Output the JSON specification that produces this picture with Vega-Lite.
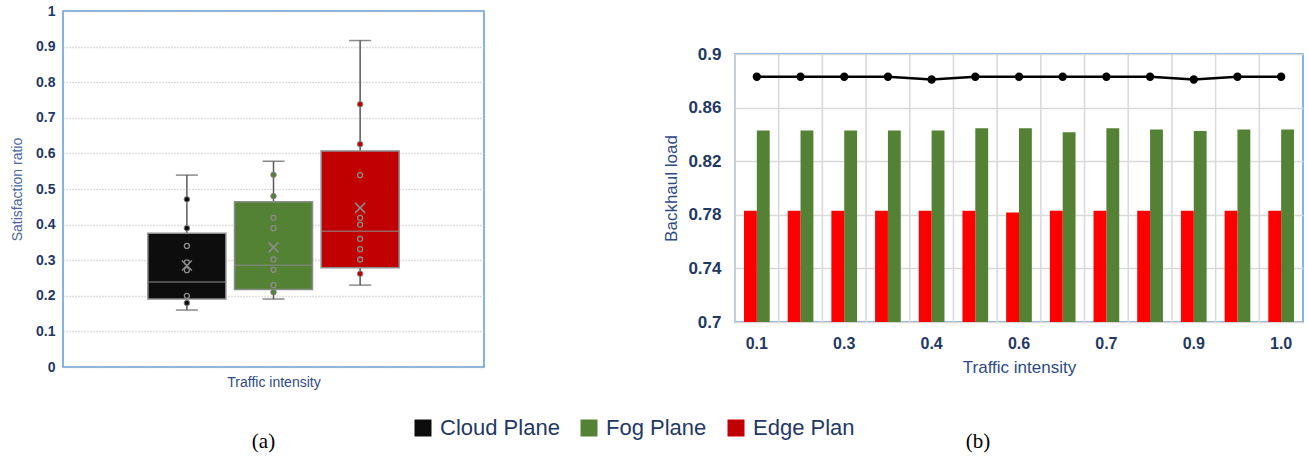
{
  "$schema": "https://vega.github.io/schema/vega-lite/v6.json",
  "padding": {"left": 9, "top": 3, "right": 0, "bottom": 0},
  "background": "white",
  "config": {
    "font": "Liberation Sans",
    "view": {"stroke": "#5B9BD5", "strokeWidth": 1.5},
    "title": {"font": "Liberation Serif", "fontSize": 21, "fontWeight": "normal", "color": "#000000"}
  },
  "datasets": {
    "box": [
      {"plane": "Cloud Plane", "min": 0.16, "q1": 0.191, "median": 0.239, "q3": 0.376, "max": 0.539, "mean": 0.285},
      {"plane": "Fog Plane", "min": 0.191, "q1": 0.218, "median": 0.286, "q3": 0.464, "max": 0.578, "mean": 0.336},
      {"plane": "Edge Plan", "min": 0.23, "q1": 0.279, "median": 0.381, "q3": 0.607, "max": 0.917, "mean": 0.447}
    ],
    "pts": [
      {"plane": "Cloud Plane", "ratio": 0.471, "outer": true},
      {"plane": "Cloud Plane", "ratio": 0.39, "outer": true},
      {"plane": "Cloud Plane", "ratio": 0.18, "outer": true},
      {"plane": "Cloud Plane", "ratio": 0.34, "outer": false},
      {"plane": "Cloud Plane", "ratio": 0.294, "outer": false},
      {"plane": "Cloud Plane", "ratio": 0.272, "outer": false},
      {"plane": "Cloud Plane", "ratio": 0.2, "outer": false},
      {"plane": "Fog Plane", "ratio": 0.54, "outer": true},
      {"plane": "Fog Plane", "ratio": 0.48, "outer": true},
      {"plane": "Fog Plane", "ratio": 0.21, "outer": true},
      {"plane": "Fog Plane", "ratio": 0.419, "outer": false},
      {"plane": "Fog Plane", "ratio": 0.39, "outer": false},
      {"plane": "Fog Plane", "ratio": 0.302, "outer": false},
      {"plane": "Fog Plane", "ratio": 0.273, "outer": false},
      {"plane": "Fog Plane", "ratio": 0.23, "outer": false},
      {"plane": "Edge Plan", "ratio": 0.738, "outer": true},
      {"plane": "Edge Plan", "ratio": 0.626, "outer": true},
      {"plane": "Edge Plan", "ratio": 0.262, "outer": true},
      {"plane": "Edge Plan", "ratio": 0.539, "outer": false},
      {"plane": "Edge Plan", "ratio": 0.419, "outer": false},
      {"plane": "Edge Plan", "ratio": 0.4, "outer": false},
      {"plane": "Edge Plan", "ratio": 0.36, "outer": false},
      {"plane": "Edge Plan", "ratio": 0.331, "outer": false},
      {"plane": "Edge Plan", "ratio": 0.302, "outer": false}
    ],
    "bh": [
      {"ti": "0.100", "plane": "Cloud Plane", "load": 0.883},
      {"ti": "0.175", "plane": "Cloud Plane", "load": 0.883},
      {"ti": "0.250", "plane": "Cloud Plane", "load": 0.883},
      {"ti": "0.325", "plane": "Cloud Plane", "load": 0.883},
      {"ti": "0.400", "plane": "Cloud Plane", "load": 0.881},
      {"ti": "0.475", "plane": "Cloud Plane", "load": 0.883},
      {"ti": "0.550", "plane": "Cloud Plane", "load": 0.883},
      {"ti": "0.625", "plane": "Cloud Plane", "load": 0.883},
      {"ti": "0.700", "plane": "Cloud Plane", "load": 0.883},
      {"ti": "0.775", "plane": "Cloud Plane", "load": 0.883},
      {"ti": "0.850", "plane": "Cloud Plane", "load": 0.881},
      {"ti": "0.925", "plane": "Cloud Plane", "load": 0.883},
      {"ti": "1.000", "plane": "Cloud Plane", "load": 0.883},
      {"ti": "0.100", "plane": "Fog Plane", "load": 0.843},
      {"ti": "0.175", "plane": "Fog Plane", "load": 0.843},
      {"ti": "0.250", "plane": "Fog Plane", "load": 0.843},
      {"ti": "0.325", "plane": "Fog Plane", "load": 0.843},
      {"ti": "0.400", "plane": "Fog Plane", "load": 0.843},
      {"ti": "0.475", "plane": "Fog Plane", "load": 0.8446},
      {"ti": "0.550", "plane": "Fog Plane", "load": 0.8446},
      {"ti": "0.625", "plane": "Fog Plane", "load": 0.8416},
      {"ti": "0.700", "plane": "Fog Plane", "load": 0.8446},
      {"ti": "0.775", "plane": "Fog Plane", "load": 0.8436},
      {"ti": "0.850", "plane": "Fog Plane", "load": 0.8426},
      {"ti": "0.925", "plane": "Fog Plane", "load": 0.8436},
      {"ti": "1.000", "plane": "Fog Plane", "load": 0.8436},
      {"ti": "0.100", "plane": "Edge Plan", "load": 0.783},
      {"ti": "0.175", "plane": "Edge Plan", "load": 0.783},
      {"ti": "0.250", "plane": "Edge Plan", "load": 0.783},
      {"ti": "0.325", "plane": "Edge Plan", "load": 0.783},
      {"ti": "0.400", "plane": "Edge Plan", "load": 0.783},
      {"ti": "0.475", "plane": "Edge Plan", "load": 0.783},
      {"ti": "0.550", "plane": "Edge Plan", "load": 0.7817},
      {"ti": "0.625", "plane": "Edge Plan", "load": 0.783},
      {"ti": "0.700", "plane": "Edge Plan", "load": 0.783},
      {"ti": "0.775", "plane": "Edge Plan", "load": 0.783},
      {"ti": "0.850", "plane": "Edge Plan", "load": 0.783},
      {"ti": "0.925", "plane": "Edge Plan", "load": 0.783},
      {"ti": "1.000", "plane": "Edge Plan", "load": 0.783}
    ]
  },
  "spacing": 177,
  "hconcat": [
    {
      "width": 421,
      "height": 356,
      "title": {"text": "(a)", "orient": "bottom", "anchor": "middle", "frame": "group", "offset": 42, "dx": -10},
      "encoding": {
        "x": {
          "field": "plane", "type": "nominal",
          "scale": {"domain": ["Cloud Plane", "Fog Plane", "Edge Plan"], "paddingInner": 0.1, "paddingOuter": 0.98},
          "axis": {"title": "Traffic intensity", "labels": false, "ticks": false, "domain": false, "titleFontSize": 14, "titleFontWeight": "normal", "titleColor": "#2E4A86", "titlePadding": 8}
        }
      },
      "layer": [
        {
          "data": {"name": "box"},
          "mark": {"type": "rule", "color": "#595959", "strokeWidth": 1.5},
          "encoding": {
            "y": {
              "field": "min", "type": "quantitative", "scale": {"domain": [0, 1]}, "title": "Satisfaction ratio",
              "axis": {"title": "Satisfaction ratio", "values": [0, 0.1, 0.2, 0.3, 0.4, 0.5, 0.6, 0.7, 0.8, 0.9, 1], "format": "~f", "labelOverlap": false, "labelFontSize": 14, "labelFontWeight": "bold", "labelColor": "#1F3864", "labelPadding": 8, "ticks": false, "domain": false, "grid": true, "gridColor": "#bfbfbf", "gridDash": [1, 2], "gridWidth": 1.3, "titleFontSize": 14, "titleFontWeight": "normal", "titleColor": "#4A66A0", "titlePadding": 11}
            },
            "y2": {"field": "max"}
          }
        },
        {
          "data": {"name": "box"},
          "mark": {"type": "tick", "color": "#595959", "size": 22, "thickness": 1.5},
          "encoding": {"y": {"field": "min", "type": "quantitative", "scale": {"domain": [0, 1]}, "title": "Satisfaction ratio",
            "axis": {"title": "Satisfaction ratio", "values": [0, 0.1, 0.2, 0.3, 0.4, 0.5, 0.6, 0.7, 0.8, 0.9, 1], "format": "~f", "labelOverlap": false, "labelFontSize": 14, "labelFontWeight": "bold", "labelColor": "#1F3864", "labelPadding": 8, "ticks": false, "domain": false, "grid": true, "gridColor": "#bfbfbf", "gridDash": [1, 2], "gridWidth": 1.3, "titleFontSize": 14, "titleFontWeight": "normal", "titleColor": "#4A66A0", "titlePadding": 11}}}
        },
        {
          "data": {"name": "box"},
          "mark": {"type": "tick", "color": "#595959", "size": 22, "thickness": 1.5},
          "encoding": {"y": {"field": "max", "type": "quantitative", "scale": {"domain": [0, 1]}, "title": "Satisfaction ratio",
            "axis": {"title": "Satisfaction ratio", "values": [0, 0.1, 0.2, 0.3, 0.4, 0.5, 0.6, 0.7, 0.8, 0.9, 1], "format": "~f", "labelOverlap": false, "labelFontSize": 14, "labelFontWeight": "bold", "labelColor": "#1F3864", "labelPadding": 8, "ticks": false, "domain": false, "grid": true, "gridColor": "#bfbfbf", "gridDash": [1, 2], "gridWidth": 1.3, "titleFontSize": 14, "titleFontWeight": "normal", "titleColor": "#4A66A0", "titlePadding": 11}}}
        },
        {
          "data": {"name": "box"},
          "mark": {"type": "bar", "stroke": "#8c8c8c", "strokeWidth": 1.5},
          "encoding": {
            "y": {"field": "q1", "type": "quantitative", "scale": {"domain": [0, 1]}, "title": "Satisfaction ratio",
              "axis": {"title": "Satisfaction ratio", "values": [0, 0.1, 0.2, 0.3, 0.4, 0.5, 0.6, 0.7, 0.8, 0.9, 1], "format": "~f", "labelOverlap": false, "labelFontSize": 14, "labelFontWeight": "bold", "labelColor": "#1F3864", "labelPadding": 8, "ticks": false, "domain": false, "grid": true, "gridColor": "#bfbfbf", "gridDash": [1, 2], "gridWidth": 1.3, "titleFontSize": 14, "titleFontWeight": "normal", "titleColor": "#4A66A0", "titlePadding": 11}},
            "y2": {"field": "q3"},
            "color": {
              "field": "plane", "type": "nominal",
              "scale": {"domain": ["Cloud Plane", "Fog Plane", "Edge Plan"], "range": ["#0d0d0d", "#548235", "#C00000"]},
              "legend": {"orient": "none", "legendX": 349, "legendY": 406, "direction": "horizontal", "title": null, "symbolType": "square", "symbolSize": 289, "symbolStrokeWidth": 0, "labelFontSize": 22, "labelColor": "#1F3864", "labelFont": "Liberation Sans", "columnPadding": 18, "labelOffset": 6, "padding": 0}
            }
          }
        },
        {
          "data": {"name": "box"},
          "mark": {"type": "tick", "color": "#8c8c8c", "size": 77, "thickness": 1.5},
          "encoding": {"y": {"field": "median", "type": "quantitative", "scale": {"domain": [0, 1]}, "title": "Satisfaction ratio",
            "axis": {"title": "Satisfaction ratio", "values": [0, 0.1, 0.2, 0.3, 0.4, 0.5, 0.6, 0.7, 0.8, 0.9, 1], "format": "~f", "labelOverlap": false, "labelFontSize": 14, "labelFontWeight": "bold", "labelColor": "#1F3864", "labelPadding": 8, "ticks": false, "domain": false, "grid": true, "gridColor": "#bfbfbf", "gridDash": [1, 2], "gridWidth": 1.3, "titleFontSize": 14, "titleFontWeight": "normal", "titleColor": "#4A66A0", "titlePadding": 11}}}
        },
        {
          "data": {"name": "pts"},
          "transform": [{"filter": "!datum.outer"}],
          "mark": {"type": "point", "filled": false, "stroke": "#8c8c8c", "strokeWidth": 1.3, "size": 25, "opacity": 1},
          "encoding": {"y": {"field": "ratio", "type": "quantitative", "scale": {"domain": [0, 1]}, "title": "Satisfaction ratio",
            "axis": {"title": "Satisfaction ratio", "values": [0, 0.1, 0.2, 0.3, 0.4, 0.5, 0.6, 0.7, 0.8, 0.9, 1], "format": "~f", "labelOverlap": false, "labelFontSize": 14, "labelFontWeight": "bold", "labelColor": "#1F3864", "labelPadding": 8, "ticks": false, "domain": false, "grid": true, "gridColor": "#bfbfbf", "gridDash": [1, 2], "gridWidth": 1.3, "titleFontSize": 14, "titleFontWeight": "normal", "titleColor": "#4A66A0", "titlePadding": 11}}}
        },
        {
          "data": {"name": "pts"},
          "transform": [{"filter": "datum.outer"}],
          "mark": {"type": "point", "filled": true, "stroke": "#7f7f7f", "strokeWidth": 1, "size": 30, "opacity": 1},
          "encoding": {
            "y": {"field": "ratio", "type": "quantitative", "scale": {"domain": [0, 1]}, "title": "Satisfaction ratio",
              "axis": {"title": "Satisfaction ratio", "values": [0, 0.1, 0.2, 0.3, 0.4, 0.5, 0.6, 0.7, 0.8, 0.9, 1], "format": "~f", "labelOverlap": false, "labelFontSize": 14, "labelFontWeight": "bold", "labelColor": "#1F3864", "labelPadding": 8, "ticks": false, "domain": false, "grid": true, "gridColor": "#bfbfbf", "gridDash": [1, 2], "gridWidth": 1.3, "titleFontSize": 14, "titleFontWeight": "normal", "titleColor": "#4A66A0", "titlePadding": 11}},
            "color": {"field": "plane", "type": "nominal", "scale": {"domain": ["Cloud Plane", "Fog Plane", "Edge Plan"], "range": ["#0d0d0d", "#548235", "#C00000"]}}
          }
        },
        {
          "data": {"name": "box"},
          "mark": {"type": "point", "shape": "M-1,-1L1,1M-1,1L1,-1", "filled": false, "stroke": "#8c8c8c", "strokeWidth": 1.5, "size": 100, "opacity": 1},
          "encoding": {"y": {"field": "mean", "type": "quantitative", "scale": {"domain": [0, 1]}, "title": "Satisfaction ratio",
            "axis": {"title": "Satisfaction ratio", "values": [0, 0.1, 0.2, 0.3, 0.4, 0.5, 0.6, 0.7, 0.8, 0.9, 1], "format": "~f", "labelOverlap": false, "labelFontSize": 14, "labelFontWeight": "bold", "labelColor": "#1F3864", "labelPadding": 8, "ticks": false, "domain": false, "grid": true, "gridColor": "#bfbfbf", "gridDash": [1, 2], "gridWidth": 1.3, "titleFontSize": 14, "titleFontWeight": "normal", "titleColor": "#4A66A0", "titlePadding": 11}}}
        }
      ]
    },
    {
      "spacing": 21,
      "vconcat": [
        {
          "width": 568,
          "height": 12,
          "view": {"stroke": null},
          "data": {"values": []},
          "mark": {"type": "point"}
        },
        {
          "width": 568,
          "height": 268,
          "title": {"text": "(b)", "orient": "bottom", "anchor": "middle", "frame": "bounds", "offset": 56, "dx": -5},
          "data": {"name": "bh"},
          "encoding": {
            "x": {
              "field": "ti", "type": "nominal",
              "scale": {"paddingInner": 0, "paddingOuter": 0},
              "axis": {
                "labelExpr": "datum.value == '0.100' ? '0.1' : datum.value == '0.250' ? '0.3' : datum.value == '0.400' ? '0.4' : datum.value == '0.550' ? '0.6' : datum.value == '0.700' ? '0.7' : datum.value == '0.850' ? '0.9' : datum.value == '1.000' ? '1.0' : ''",
                "labelAngle": 0, "labelFontSize": 16, "labelFontWeight": "bold", "labelColor": "#1F3864", "labelPadding": 13,
                "ticks": false, "domain": false,
                "title": "Traffic intensity", "titleFontSize": 17, "titleFontWeight": "normal", "titleColor": "#2E4A86", "titlePadding": 8
              }
            }
          },
          "layer": [
            {
              "transform": [{"filter": "datum.plane == 'Cloud Plane'"}],
              "mark": {"type": "rule", "color": "#d9d9d9", "strokeWidth": 1.5},
              "encoding": {"x": {"field": "ti", "type": "nominal", "bandPosition": 0}}
            },
            {
              "transform": [{"filter": "datum.plane != 'Cloud Plane'"}],
              "mark": {"type": "bar"},
              "encoding": {
                "xOffset": {"field": "plane", "type": "nominal", "scale": {"domain": ["Edge Plan", "Fog Plane"], "paddingInner": 0, "paddingOuter": 0.7}},
                "y": {
                  "field": "load", "type": "quantitative", "scale": {"domain": [0.7, 0.9]}, "title": "Backhaul load",
                  "axis": {"title": "Backhaul load", "values": [0.7, 0.74, 0.78, 0.82, 0.86, 0.9], "format": "~f", "labelFontSize": 17, "labelFontWeight": "bold", "labelColor": "#1F3864", "labelPadding": 14, "ticks": false, "domain": false, "grid": true, "gridColor": "#d9d9d9", "gridWidth": 1.5, "titleFontSize": 17, "titleFontWeight": "normal", "titleColor": "#2E4A86", "titlePadding": 7}
                },
                "y2": {"datum": 0.7},
                "fill": {"field": "plane", "type": "nominal", "scale": {"domain": ["Edge Plan", "Fog Plane"], "range": ["#FF0000", "#548235"]}, "legend": null}
              }
            },
            {
              "transform": [{"filter": "datum.plane == 'Cloud Plane'"}],
              "mark": {"type": "line", "color": "#000000", "strokeWidth": 2.5},
              "encoding": {"y": {"field": "load", "type": "quantitative", "scale": {"domain": [0.7, 0.9]}, "title": "Backhaul load"}}
            },
            {
              "transform": [{"filter": "datum.plane == 'Cloud Plane'"}],
              "mark": {"type": "point", "filled": true, "color": "#000000", "size": 70, "opacity": 1},
              "encoding": {"y": {"field": "load", "type": "quantitative", "scale": {"domain": [0.7, 0.9]}, "title": "Backhaul load"}}
            }
          ]
        }
      ]
    }
  ]
}
